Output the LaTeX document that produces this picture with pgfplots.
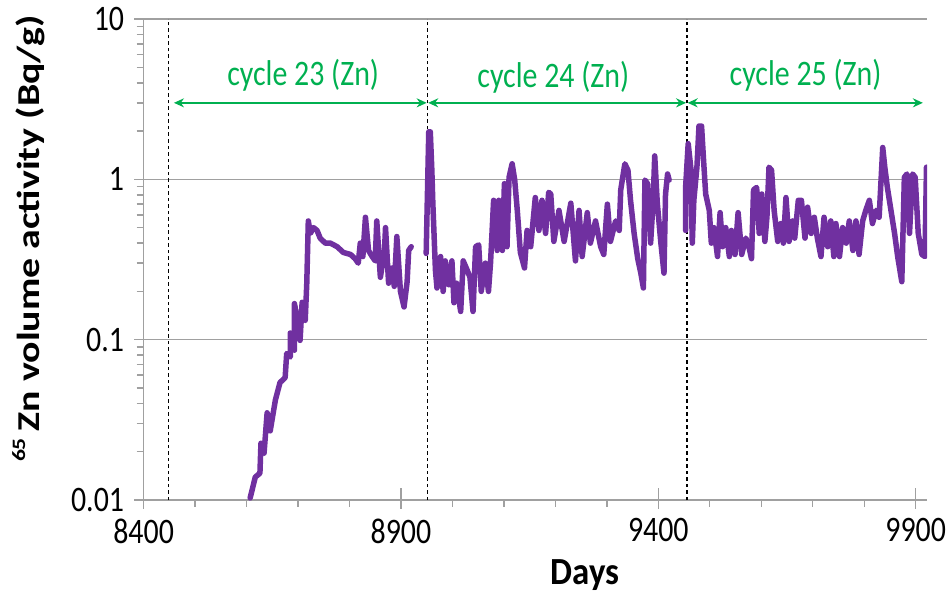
\documentclass[border=0pt]{standalone}
\usepackage{fontspec}
\setmainfont{Carlito}
\usepackage{graphicx}
\usepackage{pgfplots}
\pgfplotsset{compat=1.18}
\usetikzlibrary{arrows.meta}
\definecolor{zn}{HTML}{7030A0}
\definecolor{cyc}{HTML}{00B050}
\definecolor{axg}{HTML}{A0A0A0}
\newcommand{\vs}[1]{\scalebox{1}[1.2]{#1}}
\begin{document}
\begin{tikzpicture}
\path[use as bounding box] (0,0) rectangle (949bp,596bp);
\begin{axis}[
  name=ax,
  at={(143.6bp,96bp)}, anchor=south west,
  scale only axis, width=783.4bp, height=481bp,
  axis x line*=bottom, axis y line*=left,
  ymode=log, ymin=0.01, ymax=10,
  xmin=8400, xmax=9922,
  xtick={8400,8900,9400,9900},
  xticklabels={\vs{8400},\vs{8900},\vs{9400},\vs{9900}},
  minor xtick={8500,8600,8700,8800,9000,9100,9200,9300,9500,9600,9700,9800},
  ytick={0.01,0.1,1,10},
  yticklabels={\vs{0.01},\vs{0.1},\vs{1},\vs{10}},
  axis line style={axg, line width=1.6bp},
  tick style={axg, line width=1.4bp},
  tick align=outside,
  major tick length=9bp, minor tick length=7bp,
  ymajorgrids, grid style={axg, line width=1.6bp},
  ticklabel style={font=\fontsize{30}{32}\selectfont, text=black},
  xticklabel style={yshift=-6bp},
  yticklabel style={xshift=-7bp},
  xlabel={\scalebox{1}[1.1]{\textbf{Days}}},
  ylabel={\scalebox{1.25}[1]{\textbf{\raisebox{0.45em}{\fontsize{19}{19}\selectfont 65}\,Zn volume activity (Bq/g)}}},
  label style={font=\fontsize{32}{34}\selectfont},
  x label style={font=\fontsize{35}{37}\selectfont, at={(axis description cs:0.5634,-0.156)}, anchor=center},
  y label style={at={(axis description cs:-0.1468,0.543)}, anchor=center, rotate=0},
  clip=true,
]
% dashed cycle boundaries
\addplot[black, line width=1.3bp, dash pattern=on 3.5bp off 3bp] coordinates {(8448,0.01) (8448,10)};
\addplot[black, line width=1.3bp, dash pattern=on 3.5bp off 3bp] coordinates {(8951,0.01) (8951,10)};
\addplot[black, line width=1.3bp, dash pattern=on 3.5bp off 3bp] coordinates {(9456,0.01) (9456,10)};
% cycle 23
\addplot[zn, line width=5.5bp, line join=round, line cap=round] coordinates {
(8607,0.0103) (8617,0.0139) (8626,0.0147) (8628,0.0226) (8634,0.0196) (8640,0.035)
(8646,0.027) (8656,0.042) (8665,0.054) (8675,0.058) (8678,0.082) (8685,0.078)
(8685,0.11) (8693,0.086) (8693,0.168) (8700,0.127) (8704,0.099) (8708,0.171)
(8714,0.132) (8717,0.224) (8720,0.55) (8724,0.46) (8730,0.50) (8737,0.48)
(8743,0.43) (8753,0.40) (8763,0.40) (8776,0.38) (8788,0.35) (8802,0.34)
(8811,0.32) (8817,0.30) (8821,0.40) (8826,0.33) (8831,0.58) (8837,0.36)
(8844,0.33) (8850,0.31) (8853,0.55) (8860,0.245) (8868,0.36) (8870,0.50)
(8876,0.225) (8883,0.28) (8887,0.215) (8892,0.44) (8899,0.20) (8906,0.16)
(8912,0.23) (8915,0.36) (8920,0.38)
};
% cycle 24
\addplot[zn, line width=5.5bp, line join=round, line cap=round] coordinates {
(8949,0.345) (8954,1.98) (8957,1.98) (8960,1.14) (8962,0.70) (8967,0.27)
(8970,0.21) (8977,0.33) (8982,0.20) (8986,0.31) (8993,0.22) (8999,0.31)
(9003,0.17) (9008,0.225) (9016,0.15) (9021,0.31) (9029,0.27) (9034,0.245)
(9040,0.15) (9045,0.38) (9051,0.39) (9056,0.20) (9064,0.30) (9070,0.20)
(9074,0.30) (9080,0.74) (9087,0.36) (9090,0.74) (9097,0.36) (9101,0.94)
(9106,0.38) (9110,1.03) (9116,1.25) (9121,0.99) (9126,0.64) (9132,0.35)
(9140,0.28) (9145,0.48) (9152,0.38) (9161,0.77) (9168,0.48) (9174,0.74)
(9181,0.46) (9187,0.83) (9191,0.81) (9197,0.41) (9207,0.64) (9217,0.41)
(9230,0.71) (9239,0.31) (9246,0.64) (9252,0.33) (9262,0.62) (9268,0.40)
(9278,0.55) (9288,0.38) (9294,0.34) (9301,0.70) (9307,0.41) (9317,0.55)
(9324,0.48) (9327,0.86) (9335,1.25) (9341,1.14) (9346,0.74) (9353,0.46)
(9360,0.32) (9366,0.26) (9371,0.21) (9374,0.99) (9379,0.94) (9385,0.40)
(9390,0.74) (9393,1.40) (9398,0.71) (9405,0.40) (9411,0.26) (9414,0.81)
(9418,1.08) (9421,0.99)
};
% cycle 25
\addplot[zn, line width=5.5bp, line join=round, line cap=round] coordinates {
(9453,0.48) (9453,0.89) (9458,1.67) (9463,1.19) (9466,0.40) (9469,0.74)
(9475,1.19) (9479,2.15) (9484,2.15) (9488,1.30) (9492,0.81) (9499,0.64)
(9503,0.40) (9508,0.50) (9515,0.33) (9520,0.62) (9525,0.38) (9531,0.50)
(9538,0.33) (9542,0.48) (9549,0.34) (9555,0.62) (9562,0.34) (9570,0.43)
(9576,0.38) (9581,0.32) (9585,0.86) (9591,0.89) (9596,0.46) (9601,0.81)
(9607,0.41) (9611,0.58) (9615,1.19) (9620,1.14) (9625,0.64) (9632,0.41)
(9638,0.53) (9643,0.40) (9648,0.77) (9654,0.41) (9661,0.55) (9665,0.43)
(9672,0.74) (9678,0.74) (9685,0.43) (9690,0.67) (9697,0.46) (9703,0.58)
(9709,0.43) (9716,0.33) (9722,0.58) (9729,0.38) (9735,0.55) (9741,0.33)
(9745,0.53) (9752,0.33) (9758,0.50) (9765,0.40) (9771,0.55) (9778,0.36)
(9784,0.55) (9790,0.34) (9797,0.55) (9803,0.64) (9810,0.74) (9816,0.53)
(9823,0.64) (9829,0.58) (9836,1.58) (9840,1.19) (9845,0.89) (9852,0.64)
(9859,0.46) (9865,0.33) (9873,0.23) (9878,1.03) (9883,1.08) (9888,0.46)
(9894,1.08) (9899,1.03) (9905,0.46) (9912,0.34) (9918,0.33) (9921,1.19)
};
% crossing part of x major ticks
\draw[axg, line width=1.4bp] (axis cs:8900,0.01) -- ([yshift=12bp]axis cs:8900,0.01);
\draw[axg, line width=1.4bp] (axis cs:9400,0.01) -- ([yshift=12bp]axis cs:9400,0.01);
\draw[axg, line width=1.4bp] (axis cs:9900,0.01) -- ([yshift=12bp]axis cs:9900,0.01);
% cycle arrows and labels
\draw[cyc, line width=2bp, {Stealth[length=10bp,width=9bp]}-{Stealth[length=10bp,width=9bp]}] (axis cs:8459,3.0) -- (axis cs:8950,3.0);
\draw[cyc, line width=2bp, {Stealth[length=10bp,width=9bp]}-{Stealth[length=10bp,width=9bp]}] (axis cs:8953,3.0) -- (axis cs:9454,3.0);
\draw[cyc, line width=2bp, {Stealth[length=10bp,width=9bp]}-{Stealth[length=10bp,width=9bp]}] (axis cs:9457,3.0) -- (axis cs:9914,3.0);
\node[text=cyc, font=\fontsize{30}{32}\selectfont, anchor=center] at (axis cs:8710,4.45) {\vs{cycle 23 (Zn)}};
\node[text=cyc, font=\fontsize{30}{32}\selectfont, anchor=center] at (axis cs:9196,4.3) {\vs{cycle 24 (Zn)}};
\node[text=cyc, font=\fontsize{30}{32}\selectfont, anchor=center] at (axis cs:9686,4.45) {\vs{cycle 25 (Zn)}};
\end{axis}
% y axis tick marks (major and minor)
\foreach \d in {0,1,2,3} {
  \draw[axg, line width=1.5bp] ([yshift={\d*160.333bp}]ax.south west) -- ++(-10bp,0);
}
\foreach \d in {0,1,2} {
  \foreach \k in {2,...,9} {
    \pgfmathsetmacro{\off}{(\d+log10(\k))*160.333}
    \draw[axg, line width=1.5bp] ([yshift=\off bp]ax.south west) -- ++(-7bp,0);
  }
}
\end{tikzpicture}
\end{document}
